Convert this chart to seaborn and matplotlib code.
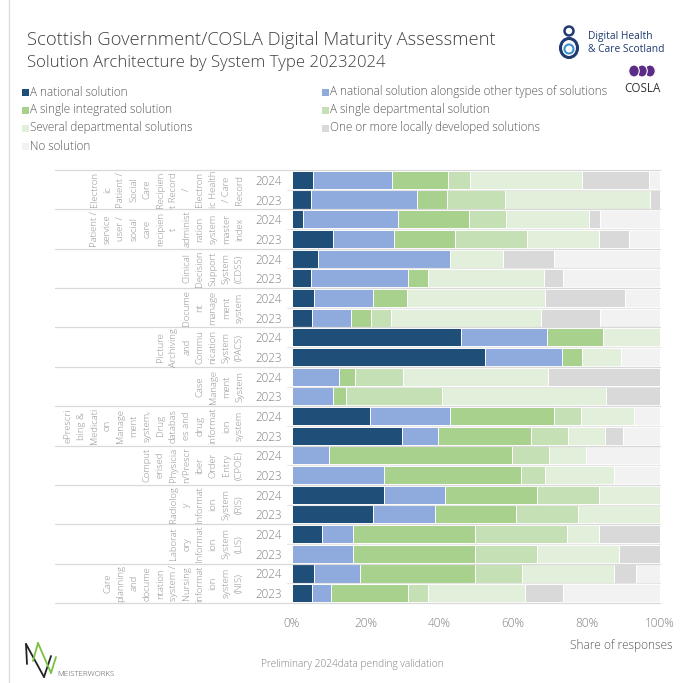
import matplotlib
matplotlib.use("Agg")
import matplotlib.pyplot as plt
from matplotlib.patches import Rectangle, Circle, Ellipse
from matplotlib.lines import Line2D
from matplotlib.transforms import blended_transform_factory
import numpy as np
import pandas as pd
import seaborn as sns

# ---- data -------------------------------------------------------------
system_types = [
    "Electron\nic\nPatient /\nSocial\nCare\nRecipien\nt Record\n/\nElectron\nic Health\n/ Care\nRecord",
    "Patient /\nservice\nuser /\nsocial\ncare\nrecipien\nt\nadminist\nration\nsystem\nmaster\nindex",
    "Clinical\nDecision\nSupport\nSystem\n(CDSS)",
    "Docume\nnt\nmanage\nment\nsystem",
    "Picture\nArchiving\nand\nCommu\nnication\nSystem\n(PACS)",
    "Case\nManage\nment\nSystem",
    "ePrescri\nbing &\nMedicati\non\nManage\nment\nsystem,\nDrug\ndatabas\nes and\ndrug\ninformat\nion\nsystem",
    "Comput\nerised\nPhysicia\nn/Prescr\niber\nOrder\nEntry\n(CPOE)",
    "Radiolog\ny\nInformat\nion\nSystem\n(RIS)",
    "Laborat\nory\nInformat\nion\nSystem\n(LIS)",
    "Care\nplanning\nand\ndocume\nntation\nsystem /\nNursing\ninformat\nion\nsystem\n(NIS)",
]
years = ["2024", "2023"]

series_names = [
    "A national solution",
    "A national solution alongside other types of solutions",
    "A single integrated solution",
    "A single departmental solution",
    "Several departmental solutions",
    "One or more locally developed solutions",
    "No solution",
]

# shares (%) per system type, 2024 then 2023
national = [5.8, 5.2, 3.1, 11.1, 7.1, 5.2, 6.1, 5.4, 45.9, 52.5, 0, 0,
            21.3, 30.0, 0, 0, 25.1, 22.1, 8.2, 0, 6.1, 5.3]
national_plus = [21.5, 28.9, 25.8, 16.7, 35.7, 26.2, 15.8, 10.6, 23.3, 20.9, 12.9, 11.2,
                 21.5, 9.8, 10.1, 25.1, 16.6, 16.8, 8.4, 16.7, 12.5, 5.2]
single_integrated = [15.0, 8.1, 19.3, 16.5, 0, 5.5, 9.3, 5.4, 15.3, 5.3, 4.3, 3.4,
                     28.5, 25.1, 49.7, 37.1, 25.0, 21.9, 33.1, 33.1, 31.2, 20.9]
single_departmental = [6.1, 15.8, 9.9, 19.5, 0, 0, 0, 5.5, 0, 0, 13.0, 26.1,
                       7.2, 10.0, 10.1, 6.5, 16.7, 16.8, 25.1, 16.9, 12.6, 5.5]
several_departmental = [30.4, 39.4, 22.6, 19.7, 14.5, 31.6, 37.6, 40.7, 15.5, 10.6, 39.4, 44.5,
                        14.4, 10.2, 10.1, 18.7, 16.7, 22.4, 8.6, 22.2, 25.2, 26.3]
locally_developed = [18.2, 2.7, 3.0, 8.2, 13.9, 5.1, 21.7, 16.0, 0, 0, 30.4, 14.8,
                     0, 4.9, 0, 0, 0, 0, 16.6, 11.1, 6.0, 10.4]
no_solution = [3.0, 0, 16.3, 8.4, 28.8, 26.4, 9.5, 16.3, 0, 10.6, 0, 0,
               7.1, 10.1, 20.1, 12.6, 0, 0, 0, 0, 6.5, 26.4]

x_ticks = [0, 20, 40, 60, 80, 100]
x_tick_labels = ["0%", "20%", "40%", "60%", "80%", "100%"]

colors = ["#1f4e79", "#8faadc", "#a9d18e", "#c5e0b4", "#e2efda", "#d9d9d9", "#f2f2f2"]

# ---- table ------------------------------------------------------------
series = [national, national_plus, single_integrated, single_departmental,
          several_departmental, locally_developed, no_solution]
row_keys = [f"{g}|{y}" for g in range(len(system_types)) for y in years]
row_years = [y for _ in system_types for y in years]
df = pd.DataFrame({name: vals for name, vals in zip(series_names, series)})
cum = df[series_names].cumsum(axis=1)
cum["row"] = row_keys

# ---- figure -----------------------------------------------------------
W, H = 687, 683
sns.set_style("white")
plt.rcParams["font.family"] = ["Open Sans", "DejaVu Sans"]
LIGHT = "light"

fig = plt.figure(figsize=(W / 100, H / 100), dpi=100)
fig.patch.set_facecolor("white")


def fx(px):
    return px / W


def fy(py):
    return 1 - py / H


ax = fig.add_axes([fx(292), fy(603), fx(660) - fx(292), fy(170) - fy(603)])

# vertical grid behind the bars
for t in x_ticks:
    ax.axvline(t, color="#e4e4e4", lw=0.8, zorder=0)

# stacked bars: draw cumulative totals from the outermost segment inwards
for name, col in reversed(list(zip(series_names, colors))):
    sns.barplot(data=cum, x=name, y="row", order=row_keys, orient="h",
                color=col, saturation=1, width=0.92, edgecolor="white",
                linewidth=0.7, ax=ax, zorder=2)

ax.set_xlim(0, 100)
ax.set_ylim(len(row_keys) - 0.5, -0.5)
ax.set_xlabel("")
ax.set_ylabel("")
for s in ax.spines.values():
    s.set_visible(False)

ax.set_xticks(x_ticks)
ax.set_xticklabels(x_tick_labels, fontweight=LIGHT)
ax.set_yticks(range(len(row_keys)))
ax.set_yticklabels(row_years, fontweight=LIGHT)
ax.tick_params(axis="x", length=0, pad=10, labelsize=8.6, labelcolor="#808080")
ax.tick_params(axis="y", length=0, pad=7, labelsize=8.4, labelcolor="#808080")

# row and group separators
tr = blended_transform_factory(fig.transFigure, ax.transData)
for i in range(len(row_keys) + 1):
    yb = i - 0.5
    if i % 2 == 0:
        ax.add_line(Line2D([fx(55), fx(660)], [yb, yb], transform=tr, color="#d9d9d9",
                           lw=0.9, clip_on=False, zorder=3))
    else:
        ax.add_line(Line2D([fx(287), fx(660)], [yb, yb], transform=tr, color="#e6e6e6",
                           lw=0.8, clip_on=False, zorder=3))

# system type labels, rotated and wrapped
for g, label in enumerate(system_types):
    ax.text(fx(244), 2 * g + 0.5, label, transform=tr, rotation=90,
            ha="right", va="center", multialignment="center",
            fontsize=6.8, color="#8c8c8c", linespacing=1.6, fontweight=LIGHT)

# ---- titles -----------------------------------------------------------
fig.text(fx(27), fy(40), "Scottish Government/COSLA Digital Maturity Assessment",
         fontsize=13.2, color="#404040", va="center", ha="left", fontweight=LIGHT)
fig.text(fx(27), fy(63), "Solution Architecture by System Type 20232024",
         fontsize=12.1, color="#404040", va="center", ha="left", fontweight=LIGHT)

# ---- legend -----------------------------------------------------------
legend_pos = [(22, 92), (322, 92), (22, 110), (322, 110), (22, 128), (322, 128), (22, 146)]
for (lx, ly), name, col in zip(legend_pos, series_names, colors):
    fig.add_artist(Rectangle((fx(lx), fy(ly + 3.5)), 7 / W, 7 / H,
                             transform=fig.transFigure, facecolor=col, edgecolor="none"))
    fig.text(fx(lx + 8), fy(ly), name, fontsize=8.5, color="#595959",
             va="center", ha="left", fontweight=LIGHT)

# ---- axis caption and footer -----------------------------------------
fig.text(fx(672), fy(645), "Share of responses", fontsize=8.6, color="#595959",
         ha="right", va="center", fontweight=LIGHT)
fig.text(fx(352), fy(665), "Preliminary 2024data pending validation", fontsize=7.3,
         color="#808080", ha="center", va="center", fontweight=LIGHT)

# card border
fig.add_artist(Line2D([fx(9), fx(9)], [0, 1], transform=fig.transFigure,
                      color="#dcdcdc", lw=1))

# ---- logos ------------------------------------------------------------
navy = "#1f3b70"
fig.add_artist(Circle((fx(569), fy(31)), 4.5 / W, transform=fig.transFigure,
                      facecolor="none", edgecolor=navy, lw=1.8))
fig.add_artist(Ellipse((fx(569), fy(48)), 17 / W, 19 / H, transform=fig.transFigure,
                       facecolor="none", edgecolor=navy, lw=2.2))
fig.add_artist(Ellipse((fx(569), fy(49)), 9 / W, 9 / H, transform=fig.transFigure,
                       facecolor="none", edgecolor="#3f8fd0", lw=1.5))
fig.text(fx(588), fy(37), "Digital Health", fontsize=7.4, color=navy, ha="left", va="center")
fig.text(fx(588), fy(49), "& Care Scotland", fontsize=7.4, color=navy, ha="left", va="center")

purple = "#5b2c86"
for cx in (650, 642, 634):
    fig.add_artist(Ellipse((fx(cx), fy(71)), 10.5 / W, 12 / H, transform=fig.transFigure,
                           facecolor=purple, edgecolor="white", lw=0.8))
fig.text(fx(642), fy(88), "COSLA", fontsize=8.4, color="#333333", ha="center", va="center")

for pts, col in [
    ([(26, 644), (27, 664)], "#222222"),
    ([(26, 644), (44, 677)], "#222222"),
    ([(44, 677), (51, 656)], "#222222"),
    ([(33, 661), (38, 643)], "#7ac143"),
    ([(38, 643), (51, 673)], "#7ac143"),
    ([(51, 673), (56, 657)], "#7ac143"),
]:
    xs = [fx(p[0]) for p in pts]
    ys = [fy(p[1]) for p in pts]
    fig.add_artist(Line2D(xs, ys, transform=fig.transFigure, color=col, lw=1.3))
fig.text(fx(57), fy(674), "MEISTERWORKS", fontsize=5.8, color="#555555", ha="left",
         va="center", fontweight=LIGHT)

fig.savefig("out.png", dpi=100, facecolor="white")
